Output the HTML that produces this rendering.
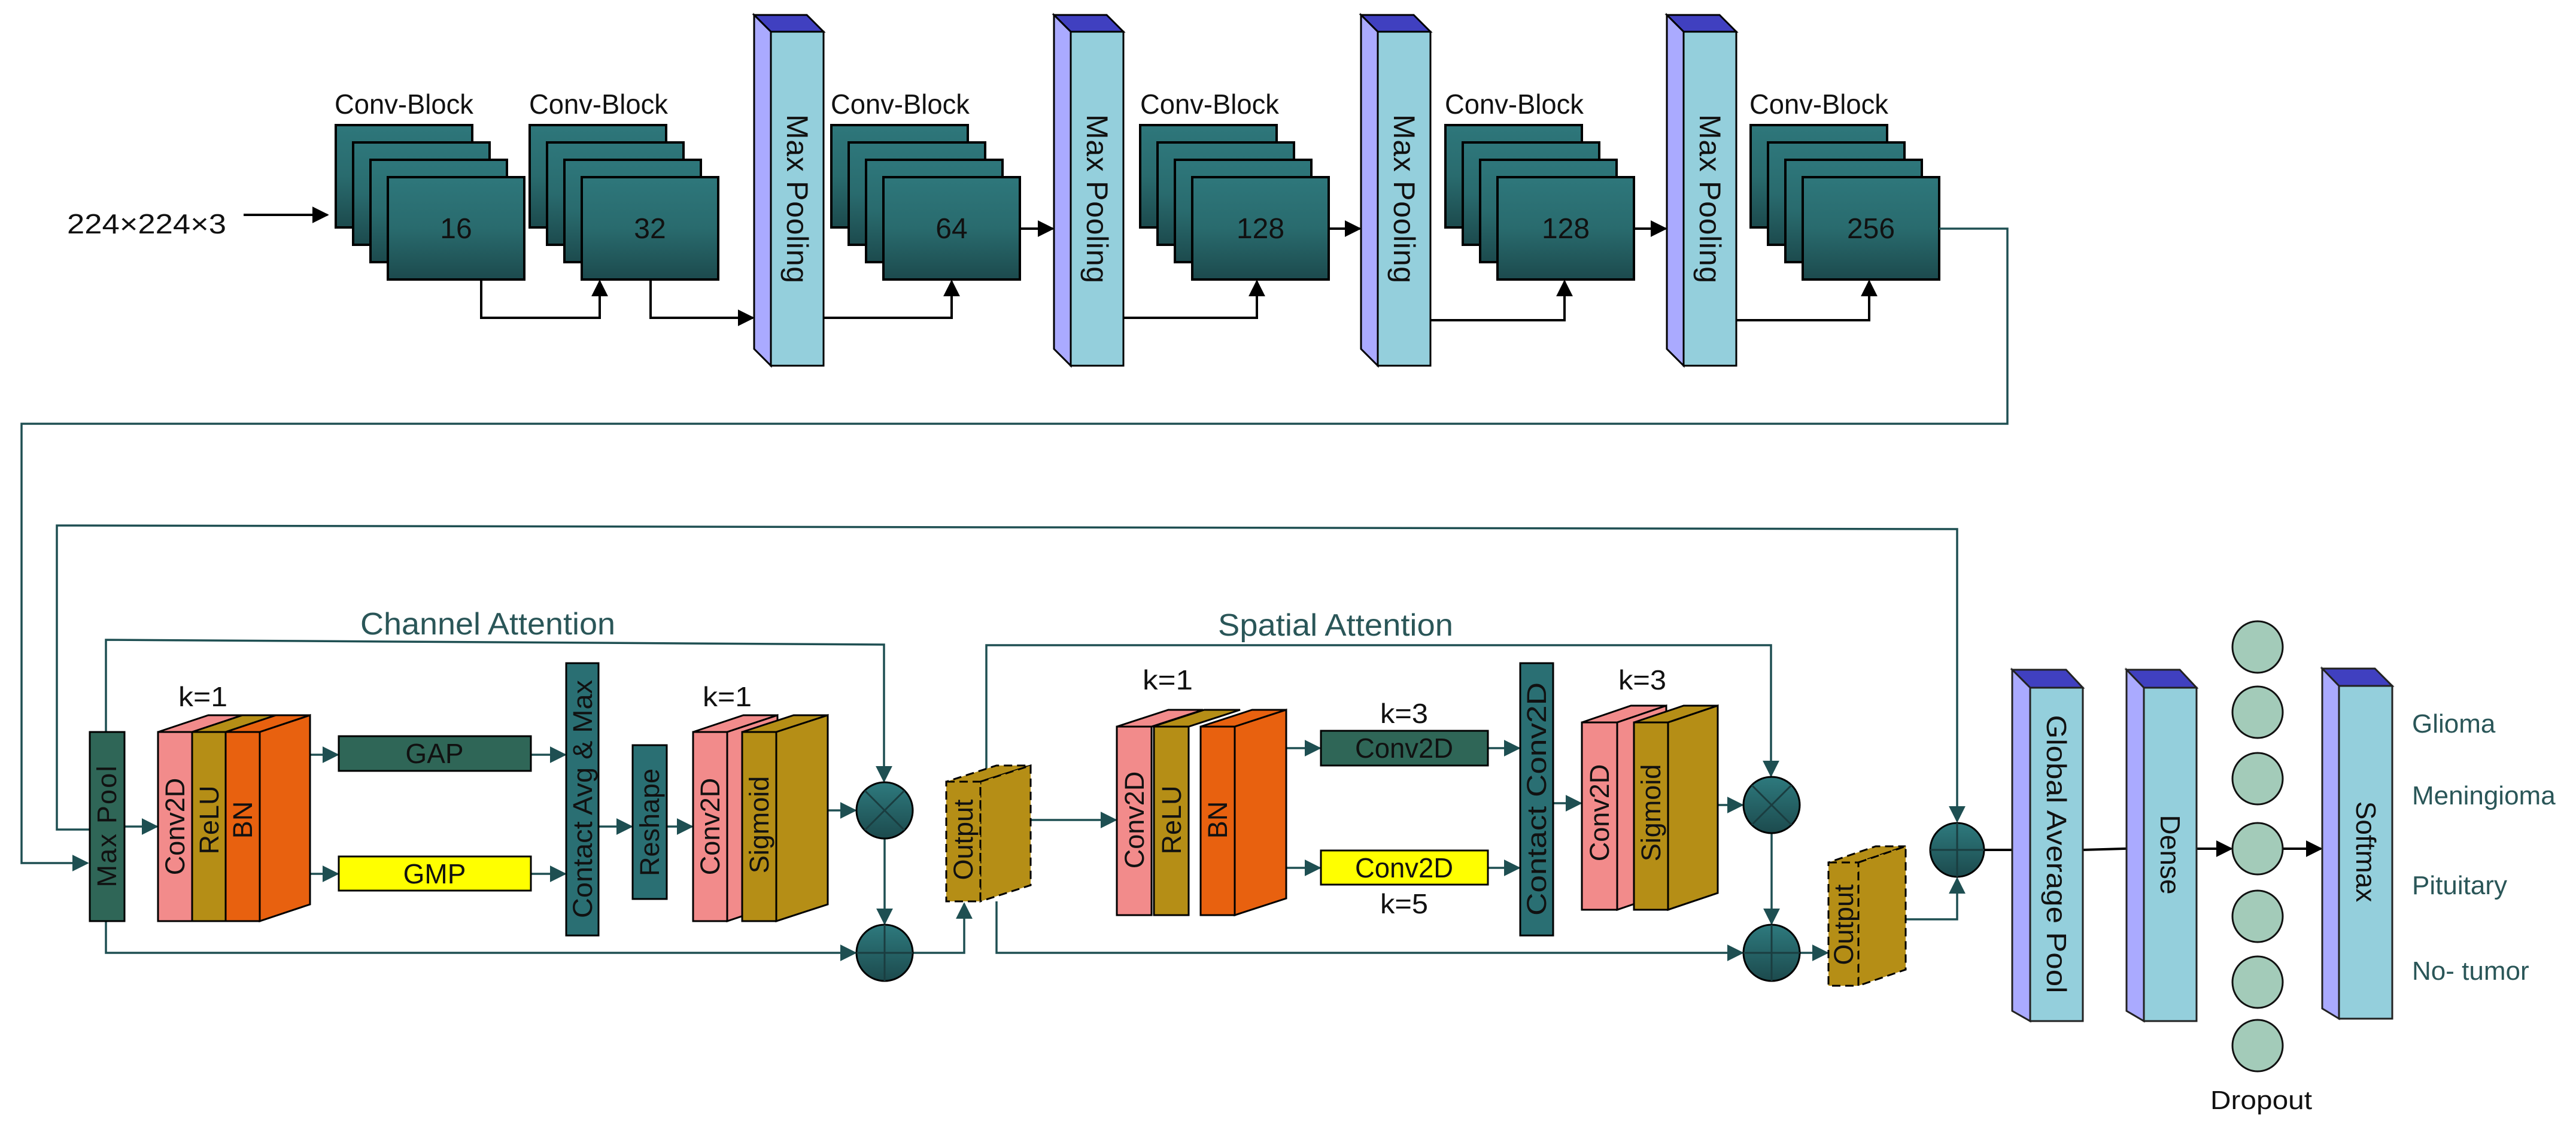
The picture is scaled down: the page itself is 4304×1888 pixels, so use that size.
<!DOCTYPE html>
<html><head><meta charset="utf-8"><style>html,body{margin:0;padding:0;background:#fff}svg{display:block}</style></head>
<body>
<svg width="4304" height="1888" viewBox="0 0 4304 1888" xmlns="http://www.w3.org/2000/svg" font-family="Liberation Sans, sans-serif">
<defs>
<marker id="ab" viewBox="0 0 10 10" refX="9" refY="5" markerWidth="28" markerHeight="28" markerUnits="userSpaceOnUse" orient="auto"><path d="M0,0 L10,5 L0,10 z" fill="#000"/></marker>
<marker id="at" viewBox="0 0 10 10" refX="9" refY="5" markerWidth="28" markerHeight="28" markerUnits="userSpaceOnUse" orient="auto"><path d="M0,0 L10,5 L0,10 z" fill="#1e4f52"/></marker>
<linearGradient id="tg" x1="0" y1="0" x2="0" y2="1"><stop offset="0" stop-color="#2e777b"/><stop offset="0.5" stop-color="#296b6e"/><stop offset="1" stop-color="#1c4a4d"/></linearGradient>
<linearGradient id="cg" x1="0" y1="0" x2="0" y2="1"><stop offset="0" stop-color="#2e7a7e"/><stop offset="1" stop-color="#1c4a4d"/></linearGradient>
</defs>

<g font-size="46" fill="#111">
<text x="675" y="190" text-anchor="middle" textLength="232" lengthAdjust="spacingAndGlyphs">Conv-Block</text>
<text x="1000" y="190" text-anchor="middle" textLength="232" lengthAdjust="spacingAndGlyphs">Conv-Block</text>
<text x="1504" y="190" text-anchor="middle" textLength="232" lengthAdjust="spacingAndGlyphs">Conv-Block</text>
<text x="2021" y="190" text-anchor="middle" textLength="232" lengthAdjust="spacingAndGlyphs">Conv-Block</text>
<text x="2530" y="190" text-anchor="middle" textLength="232" lengthAdjust="spacingAndGlyphs">Conv-Block</text>
<text x="3039" y="190" text-anchor="middle" textLength="232" lengthAdjust="spacingAndGlyphs">Conv-Block</text>
<text x="245" y="390" text-anchor="middle" textLength="266" lengthAdjust="spacingAndGlyphs">224×224×3</text>
</g>

<g stroke="#000" stroke-width="4">
<g><rect x="561" y="209" width="228" height="171" fill="url(#tg)"/><rect x="590" y="238" width="228" height="171" fill="url(#tg)"/><rect x="619" y="267" width="228" height="171" fill="url(#tg)"/><rect x="648" y="296" width="228" height="171" fill="url(#tg)"/></g>
<g><rect x="885" y="209" width="228" height="171" fill="url(#tg)"/><rect x="914" y="238" width="228" height="171" fill="url(#tg)"/><rect x="943" y="267" width="228" height="171" fill="url(#tg)"/><rect x="972" y="296" width="228" height="171" fill="url(#tg)"/></g>
<g><rect x="1389" y="209" width="228" height="171" fill="url(#tg)"/><rect x="1418" y="238" width="228" height="171" fill="url(#tg)"/><rect x="1447" y="267" width="228" height="171" fill="url(#tg)"/><rect x="1476" y="296" width="228" height="171" fill="url(#tg)"/></g>
<g><rect x="1905" y="209" width="228" height="171" fill="url(#tg)"/><rect x="1934" y="238" width="228" height="171" fill="url(#tg)"/><rect x="1963" y="267" width="228" height="171" fill="url(#tg)"/><rect x="1992" y="296" width="228" height="171" fill="url(#tg)"/></g>
<g><rect x="2415" y="209" width="228" height="171" fill="url(#tg)"/><rect x="2444" y="238" width="228" height="171" fill="url(#tg)"/><rect x="2473" y="267" width="228" height="171" fill="url(#tg)"/><rect x="2502" y="296" width="228" height="171" fill="url(#tg)"/></g>
<g><rect x="2925" y="209" width="228" height="171" fill="url(#tg)"/><rect x="2954" y="238" width="228" height="171" fill="url(#tg)"/><rect x="2983" y="267" width="228" height="171" fill="url(#tg)"/><rect x="3012" y="296" width="228" height="171" fill="url(#tg)"/></g>
</g>
<g font-size="48" fill="#111" text-anchor="middle">
<text x="762" y="398">16</text><text x="1086" y="398">32</text><text x="1590" y="398">64</text><text x="2106" y="398">128</text><text x="2616" y="398">128</text><text x="3126" y="398">256</text>
</g>

<g stroke="#000" stroke-width="3">
<g><polygon points="1260,25 1348,25 1376,53 1288,53" fill="#4040c0"/><polygon points="1260,25 1288,53 1288,611 1260,583" fill="#aaaaff"/><rect x="1288" y="53" width="88" height="558" fill="#94cfdc"/></g>
<g><polygon points="1761,25 1849,25 1877,53 1789,53" fill="#4040c0"/><polygon points="1761,25 1789,53 1789,611 1761,583" fill="#aaaaff"/><rect x="1789" y="53" width="88" height="558" fill="#94cfdc"/></g>
<g><polygon points="2274,25 2362,25 2390,53 2302,53" fill="#4040c0"/><polygon points="2274,25 2302,53 2302,611 2274,583" fill="#aaaaff"/><rect x="2302" y="53" width="88" height="558" fill="#94cfdc"/></g>
<g><polygon points="2785,25 2873,25 2901,53 2813,53" fill="#4040c0"/><polygon points="2785,25 2813,53 2813,611 2785,583" fill="#aaaaff"/><rect x="2813" y="53" width="88" height="558" fill="#94cfdc"/></g>
</g>
<g font-size="50" fill="#111" text-anchor="middle">
<text transform="translate(1315,332) rotate(90)" textLength="282" lengthAdjust="spacing">Max Pooling</text>
<text transform="translate(1816,332) rotate(90)" textLength="282" lengthAdjust="spacing">Max Pooling</text>
<text transform="translate(2329,332) rotate(90)" textLength="282" lengthAdjust="spacing">Max Pooling</text>
<text transform="translate(2840,332) rotate(90)" textLength="282" lengthAdjust="spacing">Max Pooling</text>
</g>

<g stroke="#000" stroke-width="4" fill="none" marker-end="url(#ab)">
<line x1="407" y1="359" x2="547" y2="359"/>
<polyline points="804,467 804,531 1002,531 1002,470"/>
<polyline points="1087,467 1087,531 1258,531"/>
<polyline points="1376,531 1590,531 1590,470"/>
<line x1="1704" y1="382" x2="1759" y2="382"/>
<polyline points="1877,531 2100,531 2100,470"/>
<line x1="2220" y1="382" x2="2272" y2="382"/>
<polyline points="2390,535 2614,535 2614,470"/>
<line x1="2730" y1="382" x2="2783" y2="382"/>
<polyline points="2901,535 3123,535 3123,470"/>
</g>

<g stroke="#1e4f52" stroke-width="3.5" fill="none">
<polyline points="3240,382 3354,382 3354,708 36,708 36,1442 146,1442" marker-end="url(#at)"/>
<polyline points="150,1386 95,1386 95,878 3270,884 3270,1372" marker-end="url(#at)"/>
<polyline points="177,1223 177,1069 1477,1077 1477,1305" marker-end="url(#at)"/>
<polyline points="1648,1306 1648,1078 2959,1078 2959,1296" marker-end="url(#at)"/>
<line x1="208" y1="1381" x2="262" y2="1381" marker-end="url(#at)"/>
<line x1="518" y1="1261" x2="564" y2="1261" marker-end="url(#at)"/>
<line x1="518" y1="1460" x2="564" y2="1460" marker-end="url(#at)"/>
<line x1="887" y1="1261" x2="944" y2="1261" marker-end="url(#at)"/>
<line x1="887" y1="1460" x2="944" y2="1460" marker-end="url(#at)"/>
<line x1="1000" y1="1381" x2="1055" y2="1381" marker-end="url(#at)"/>
<line x1="1114" y1="1381" x2="1156" y2="1381" marker-end="url(#at)"/>
<line x1="1383" y1="1354" x2="1429" y2="1354" marker-end="url(#at)"/>
<line x1="1478" y1="1401" x2="1478" y2="1543" marker-end="url(#at)"/>
<polyline points="177,1539 177,1592 1429,1592" marker-end="url(#at)"/>
<polyline points="1525,1592 1611,1592 1611,1510" marker-end="url(#at)"/>
<line x1="1722" y1="1370" x2="1864" y2="1370" marker-end="url(#at)"/>
<line x1="2149" y1="1250" x2="2205" y2="1250" marker-end="url(#at)"/>
<line x1="2149" y1="1450" x2="2205" y2="1450" marker-end="url(#at)"/>
<line x1="2486" y1="1250" x2="2538" y2="1250" marker-end="url(#at)"/>
<line x1="2486" y1="1450" x2="2538" y2="1450" marker-end="url(#at)"/>
<line x1="2595" y1="1342" x2="2641" y2="1342" marker-end="url(#at)"/>
<line x1="2870" y1="1345" x2="2911" y2="1345" marker-end="url(#at)"/>
<line x1="2960" y1="1392" x2="2960" y2="1543" marker-end="url(#at)"/>
<polyline points="1665,1506 1665,1592 2911,1592" marker-end="url(#at)"/>
<line x1="3007" y1="1592" x2="3053" y2="1592" marker-end="url(#at)"/>
<polyline points="3184,1536 3270,1536 3270,1468" marker-end="url(#at)"/>
</g>

<g stroke="#000" stroke-width="4" marker-end="url(#ab)">
<line x1="3316" y1="1420" x2="3390" y2="1420"/>
<line x1="3480" y1="1420" x2="3580" y2="1417"/>
<line x1="3670" y1="1418" x2="3728" y2="1418"/>
<line x1="3814" y1="1418" x2="3878" y2="1418"/>
</g>

<g fill="#2a5658" font-size="52">
<text x="602" y="1060" textLength="426" lengthAdjust="spacingAndGlyphs">Channel Attention</text>
<text x="2035" y="1062" textLength="393" lengthAdjust="spacingAndGlyphs">Spatial Attention</text>
</g>
<g fill="#111" font-size="46" text-anchor="middle">
<text x="339" y="1180" textLength="82" lengthAdjust="spacingAndGlyphs">k=1</text>
<text x="1215" y="1180" textLength="82" lengthAdjust="spacingAndGlyphs">k=1</text>
<text x="1951" y="1152" textLength="84" lengthAdjust="spacingAndGlyphs">k=1</text>
<text x="2744" y="1152" textLength="80" lengthAdjust="spacingAndGlyphs">k=3</text>
<text x="2346" y="1208" textLength="80" lengthAdjust="spacingAndGlyphs">k=3</text>
<text x="2346" y="1526" textLength="80" lengthAdjust="spacingAndGlyphs">k=5</text>
</g>

<g stroke="#000" stroke-width="3">
<rect x="150" y="1223" width="58" height="316" fill="#2f6657"/>
<polygon points="264,1223 321,1223 405,1195 348,1195" fill="#f28b8b"/>
<polygon points="321,1223 377,1223 461,1195 405,1195" fill="#b58e16"/>
<polygon points="377,1223 434,1223 518,1195 461,1195" fill="#e8610f"/>
<polygon points="434,1223 518,1195 518,1511 434,1539" fill="#e8610f"/>
<rect x="264" y="1223" width="57" height="316" fill="#f28b8b"/>
<rect x="321" y="1223" width="56" height="316" fill="#b58e16"/>
<rect x="377" y="1223" width="57" height="316" fill="#e8610f"/>
<rect x="566" y="1230" width="321" height="58" fill="#2f6657"/>
<rect x="566" y="1431" width="321" height="57" fill="#ffff00"/>
<rect x="946" y="1108" width="54" height="455" fill="#2a6f73"/>
<rect x="1057" y="1245" width="57" height="257" fill="#2a6f73"/>
<polygon points="1158,1223 1215,1223 1299,1195 1242,1195" fill="#f28b8b"/>
<polygon points="1215,1223 1299,1195 1299,1511 1215,1539" fill="#f28b8b"/>
<rect x="1158" y="1223" width="57" height="316" fill="#f28b8b"/>
<polygon points="1240,1223 1297,1223 1383,1195 1326,1195" fill="#b58e16"/>
<polygon points="1297,1223 1383,1195 1383,1511 1297,1539" fill="#b58e16"/>
<rect x="1240" y="1223" width="57" height="316" fill="#b58e16"/>
</g>
<g stroke="#000" stroke-width="3" stroke-dasharray="14,8">
<polygon points="1581,1306 1638,1306 1722,1279 1665,1279" fill="#b58e16"/>
<polygon points="1638,1306 1722,1279 1722,1479 1638,1506" fill="#b58e16"/>
<rect x="1581" y="1306" width="57" height="200" fill="#b58e16"/>
</g>

<g stroke="#000" stroke-width="3">
<polygon points="1866,1214 1924,1214 2010,1186 1952,1186" fill="#f28b8b"/>
<polygon points="1926,1214 1986,1214 2072,1186 2012,1186" fill="#b58e16"/>
<polygon points="2006,1214 2063,1214 2149,1186 2092,1186" fill="#e8610f"/>
<polygon points="2063,1214 2149,1186 2149,1501 2063,1529" fill="#e8610f"/>
<rect x="1866" y="1214" width="58" height="315" fill="#f28b8b"/>
<rect x="1928" y="1214" width="58" height="315" fill="#b58e16"/>
<rect x="2006" y="1214" width="57" height="315" fill="#e8610f"/>
<rect x="2207" y="1221" width="279" height="58" fill="#2f6657"/>
<rect x="2207" y="1421" width="279" height="57" fill="#ffff00"/>
<rect x="2540" y="1108" width="55" height="455" fill="#2a6f73"/>
<polygon points="2643,1207 2702,1207 2784,1179 2725,1179" fill="#f28b8b"/>
<polygon points="2702,1207 2784,1179 2784,1492 2702,1520" fill="#f28b8b"/>
<rect x="2643" y="1207" width="59" height="313" fill="#f28b8b"/>
<polygon points="2730,1207 2787,1207 2870,1179 2813,1179" fill="#b58e16"/>
<polygon points="2787,1207 2870,1179 2870,1492 2787,1520" fill="#b58e16"/>
<rect x="2730" y="1207" width="57" height="313" fill="#b58e16"/>
</g>
<g stroke="#000" stroke-width="3" stroke-dasharray="14,8">
<polygon points="3055,1441 3105,1441 3184,1414 3134,1414" fill="#b58e16"/>
<polygon points="3105,1441 3184,1414 3184,1620 3105,1647" fill="#b58e16"/>
<rect x="3055" y="1441" width="50" height="206" fill="#b58e16"/>
</g>

<g stroke="#000" stroke-width="3">
<circle cx="1478" cy="1354" r="47" fill="url(#cg)"/>
<path d="M1445,1321 L1511,1387 M1511,1321 L1445,1387" stroke="#1a3d40"/>
<circle cx="1478" cy="1592" r="47" fill="url(#cg)"/>
<path d="M1431,1592 H1525 M1478,1545 V1639" stroke="#1a3d40"/>
<circle cx="2960" cy="1345" r="47" fill="url(#cg)"/>
<path d="M2927,1312 L2993,1378 M2993,1312 L2927,1378" stroke="#1a3d40"/>
<circle cx="2960" cy="1592" r="47" fill="url(#cg)"/>
<path d="M2913,1592 H3007 M2960,1545 V1639" stroke="#1a3d40"/>
<circle cx="3270" cy="1420" r="45" fill="url(#cg)"/>
<path d="M3225,1420 H3315 M3270,1375 V1465" stroke="#1a3d40"/>
</g>

<g fill="#111" font-size="45" text-anchor="middle">
<text transform="translate(194,1381) rotate(-90)" textLength="203" lengthAdjust="spacing">Max  Pool</text>
<text transform="translate(308,1381) rotate(-90)">Conv2D</text>
<text transform="translate(365,1370) rotate(-90)">ReLU</text>
<text transform="translate(421,1370) rotate(-90)">BN</text>
<text transform="translate(989,1335) rotate(-90)" textLength="398" lengthAdjust="spacingAndGlyphs">Contact Avg &amp; Max</text>
<text transform="translate(1101,1374) rotate(-90)" textLength="180" lengthAdjust="spacingAndGlyphs">Reshape</text>
<text transform="translate(1202,1381) rotate(-90)">Conv2D</text>
<text transform="translate(1284,1378) rotate(-90)">Sigmoid</text>
<text transform="translate(1625,1403) rotate(-90)">Output</text>
<text transform="translate(1911,1370) rotate(-90)">Conv2D</text>
<text transform="translate(1973,1370) rotate(-90)">ReLU</text>
<text transform="translate(2050,1370) rotate(-90)">BN</text>
<text transform="translate(2583,1335) rotate(-90)" textLength="390" lengthAdjust="spacingAndGlyphs">Contact Conv2D</text>
<text transform="translate(2688,1358) rotate(-90)">Conv2D</text>
<text transform="translate(2774,1358) rotate(-90)">Sigmoid</text>
<text transform="translate(3096,1545) rotate(-90)">Output</text>
</g>
<g fill="#111" font-size="46" text-anchor="middle">
<text x="726" y="1275">GAP</text>
<text x="726" y="1476">GMP</text>
<text x="2346" y="1266" textLength="164" lengthAdjust="spacingAndGlyphs">Conv2D</text>
<text x="2346" y="1466" textLength="164" lengthAdjust="spacingAndGlyphs">Conv2D</text>
</g>

<g stroke="#222" stroke-width="3">
<polygon points="3362,1119 3452,1119 3480,1149 3392,1149" fill="#4040c0"/>
<polygon points="3362,1119 3392,1149 3392,1706 3362,1689" fill="#aaaaff"/>
<rect x="3392" y="1149" width="88" height="557" fill="#94cfdc"/>
<polygon points="3553,1119 3642,1119 3670,1149 3582,1149" fill="#4040c0"/>
<polygon points="3553,1119 3582,1149 3582,1706 3553,1689" fill="#aaaaff"/>
<rect x="3582" y="1149" width="88" height="557" fill="#94cfdc"/>
<polygon points="3880,1117 3968,1117 3997,1146 3908,1146" fill="#4040c0"/>
<polygon points="3880,1117 3908,1146 3908,1702 3880,1685" fill="#aaaaff"/>
<rect x="3908" y="1146" width="89" height="556" fill="#94cfdc"/>
</g>
<g fill="#111" font-size="46" text-anchor="middle">
<text transform="translate(3420,1427) rotate(90)" textLength="465" lengthAdjust="spacingAndGlyphs">Global Average Pool</text>
<text transform="translate(3610,1428) rotate(90)">Dense</text>
<text transform="translate(3937,1423) rotate(90)">Softmax</text>
</g>
<g fill="#a3cbb9" stroke="#111" stroke-width="3">
<ellipse cx="3772" cy="1081" rx="42" ry="43"/>
<ellipse cx="3772" cy="1190" rx="42" ry="43"/>
<ellipse cx="3772" cy="1301" rx="42" ry="43"/>
<ellipse cx="3772" cy="1418" rx="42" ry="43"/>
<ellipse cx="3772" cy="1531" rx="42" ry="43"/>
<ellipse cx="3772" cy="1641" rx="42" ry="43"/>
<ellipse cx="3772" cy="1747" rx="42" ry="43"/>
</g>
<text x="3778" y="1853" text-anchor="middle" font-size="44" fill="#111" textLength="170" lengthAdjust="spacingAndGlyphs">Dropout</text>
<g fill="#2a5658" font-size="44">
<text x="4030" y="1224">Glioma</text>
<text x="4030" y="1344">Meningioma</text>
<text x="4030" y="1494">Pituitary</text>
<text x="4030" y="1637">No- tumor</text>
</g>
</svg>
</body></html>
